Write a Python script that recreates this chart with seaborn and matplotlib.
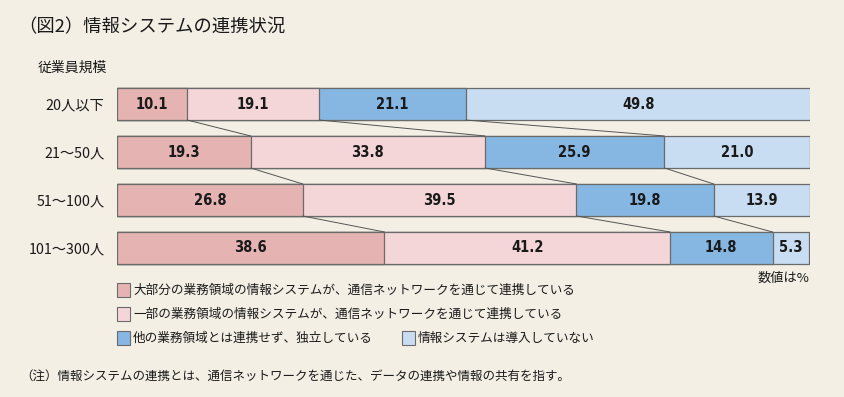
import numpy as np
import pandas as pd
import seaborn as sns
import matplotlib.pyplot as plt
from matplotlib.patches import Rectangle

# data (percent)
sizes = ['20人以下', '21～50人', '51～100人', '101～300人']
most_linked = [10.1, 19.3, 26.8, 38.6]
some_linked = [19.1, 33.8, 39.5, 41.2]
standalone = [21.1, 25.9, 19.8, 14.8]
no_system = [49.8, 21.0, 13.9, 5.3]

labels = ['大部分の業務領域の情報システムが、通信ネットワークを通じて連携している',
          '一部の業務領域の情報システムが、通信ネットワークを通じて連携している',
          '他の業務領域とは連携せず、独立している',
          '情報システムは導入していない']
colors = ['#e6b3b3', '#f4d6d8', '#86b7e3', '#c9ddf2']

sns.set_style('white')
plt.rcParams['font.family'] = ['Noto Sans CJK JP', 'DejaVu Sans']
bg = '#f3efe5'

df = pd.DataFrame({'size': sizes, 's1': most_linked, 's2': some_linked,
                   's3': standalone, 's4': no_system})
cum = df[['s1', 's2', 's3', 's4']].cumsum(axis=1)

fig = plt.figure(figsize=(8.44, 3.97), dpi=100, facecolor=bg)
ax = fig.add_axes([117 / 844, 1 - 272 / 397, 693 / 844, 192 / 397])
ax.set_facecolor(bg)

bw = 0.667
# stacked bars: draw cumulative totals from the largest down
for col, c in zip(['s4', 's3', 's2', 's1'], colors[::-1]):
    sns.barplot(x=cum[col], y=df['size'], orient='h', color=c, width=bw,
                edgecolor='#6b6b6b', linewidth=0.9, saturation=1, ax=ax)

# connector lines between rows
for i in range(len(sizes) - 1):
    for col in ['s1', 's2', 's3']:
        ax.plot([cum[col][i], cum[col][i + 1]], [i + bw / 2, i + 1 - bw / 2],
                color='#555555', lw=0.7)

# value labels
for i in range(len(sizes)):
    start = 0
    for col in ['s1', 's2', 's3', 's4']:
        v = df[col][i]
        ax.text(start + v / 2, i, f'{v:.1f}', ha='center', va='center',
                fontsize=10.5, fontweight='bold', family='DejaVu Sans',
                fontstretch='condensed', color='#1a1a1a')
        start += v

ax.set_xlim(0, 100)
ax.set_ylim(3.5, -0.5)
ax.set_xlabel('')
ax.set_ylabel('')
ax.set_xticks([])
ax.tick_params(axis='y', length=0, pad=9, labelsize=10.3, labelcolor='#1a1a1a')
sns.despine(ax=ax, left=True, bottom=True)

fig.text(18 / 844, 1 - 27 / 397, '（図2）情報システムの連携状況', fontsize=13.2,
         va='center', ha='left', color='#1a1a1a')
fig.text(38 / 844, 1 - 68 / 397, '従業員規模', fontsize=10, va='center', color='#1a1a1a')
fig.text(809 / 844, 1 - 278 / 397, '数値は%', fontsize=9.5, va='center', ha='right',
         color='#1a1a1a')

# legend
leg_pos = [(117, 290), (117, 314), (117, 338), (402, 338)]
for (x, y), lab, c in zip(leg_pos, labels, colors):
    fig.patches.append(Rectangle((x / 844, 1 - (y + 7) / 397), 13 / 844, 14 / 397,
                                 transform=fig.transFigure, facecolor=c,
                                 edgecolor='#6b6b6b', lw=0.8))
    fig.text((x + 16) / 844, 1 - y / 397, lab, fontsize=9.1, va='center', color='#1a1a1a')

fig.text(20 / 844, 1 - 376 / 397,
         '（注）情報システムの連携とは、通信ネットワークを通じた、データの連携や情報の共有を指す。',
         fontsize=9.0, va='center', color='#1a1a1a')

plt.savefig('out.png', dpi=100, facecolor=bg)
